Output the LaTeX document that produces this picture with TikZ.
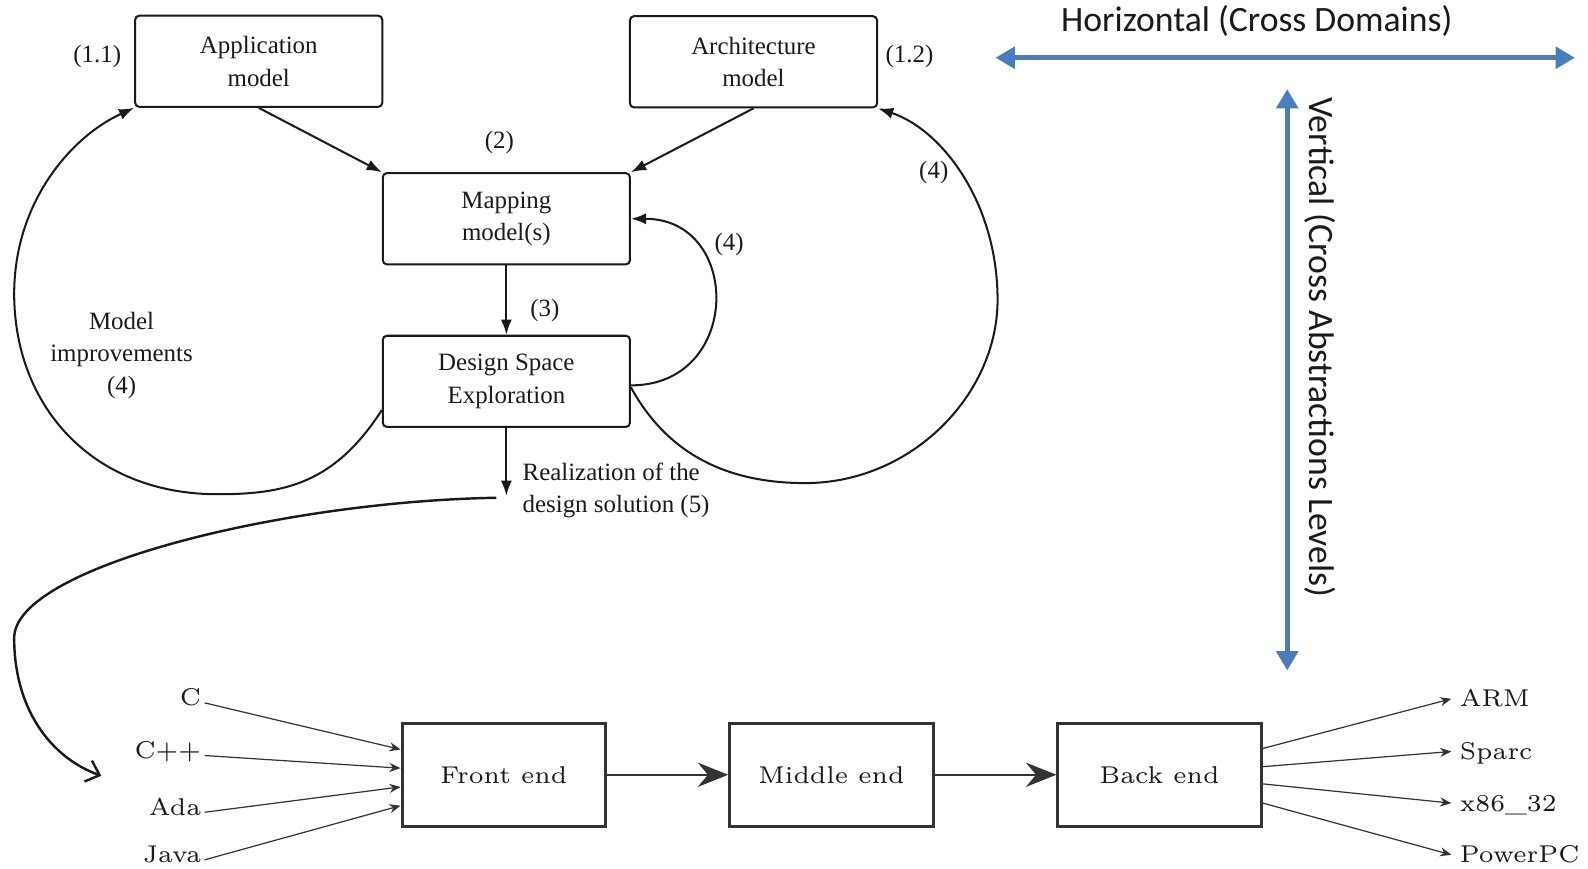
\documentclass[tikz,border=0pt]{standalone}
\usepackage{fontspec}
\newfontfamily\timesfont{Liberation Serif}
\newfontfamily\calibrifont{Carlito}
\usepackage{tikz}
\usetikzlibrary{arrows.meta,calc,positioning}
\usepackage{xcolor}
\definecolor{ink}{HTML}{1A1A1A}
\definecolor{gray3}{HTML}{333333}
\definecolor{blueax}{HTML}{4A7EBB}
\newcommand{\cmsmall}[1]{\scalebox{2}{\normalfont\fontsize{6}{7}\selectfont #1}}

\begin{document}
\begin{tikzpicture}[x=0.5pt, y=-0.5pt, every node/.style={font=\timesfont\fontsize{12.3}{16}\selectfont, text=ink},
      box/.style={draw=ink, line width=1pt, rounded corners=2pt, align=center, minimum width=122pt, minimum height=45pt, inner sep=0pt},
      stage/.style={draw=gray3, line width=1.5pt, minimum width=100.5pt, minimum height=51pt, inner sep=0pt, text=ink},
      lang/.style={inner sep=0pt, text=ink},
      flow/.style={draw=ink, line width=1pt, -{Latex[length=7.5pt,width=5.5pt]}},
      feed/.style={draw=gray3, line width=0.6pt, -{Stealth[length=5.5pt,width=4.5pt]}},
      pass/.style={draw=gray3, line width=1.1pt, -{Stealth[length=15pt,width=12pt,inset=5pt]}},
      dom/.style={draw=blueax, line width=2.5pt, {Triangle[length=9.5pt,width=10.5pt]}-{Triangle[length=9.5pt,width=10.5pt]}},
      lbl/.style={font=\calibrifont\fontsize{17.6}{20}\selectfont, inner sep=0pt}]
    \useasboundingbox (0,0) rectangle (1568,858);
    \node[box] (app) at (255.5,60.5) {Application\\model};
    \node[box] (arch) at (744,61) {Architecture\\model};
    \node[box] (map) at (500,216) {Mapping\\model(s)};
    \node[box] (dse) at (500,376.5) {Design Space\\Exploration};
    \node (n11) at (96,56) {(1.1)};
    \node (n12) at (898,56) {(1.2)};
    \node (n2) at (493,141) {(2)};
    \node (n3) at (538,307) {(3)};
    \node (n4a) at (720,241) {(4)};
    \node (n4b) at (922,170) {(4)};
    \node[align=center] (imp) at (120,351) {Model\\improvements\\(4)};
    \coordinate[below=33.5pt of dse.south] (real);
    \node[anchor=west, align=left] (sol) at (509,484) {Realization of the\\design solution (5)};
    \draw[flow] (app.south) -- (map.north west); \draw[flow] (arch.south) -- (map.north east);
    \draw[flow] (map) -- (dse); \draw[flow] (dse) -- (real);
    \draw[flow] ([yshift=-2pt]dse.east) .. controls +(110,0) and +(110,0) .. (map.east);
    \draw[flow] ([yshift=-3pt]dse.east) .. controls (660,450) and (720,477) .. (795,477) .. controls (900,477) and (985,390) .. (985,296) .. controls (985,200) and (930,128) .. (arch.south east);
    \draw[flow] (dse.193) .. controls (330,478) and (280,488) .. (215,488) .. controls (90,488) and (14,400) .. (14,290) .. controls (14,200) and (70,135) .. (app.south west);
    % towards the compiler chain
    \coordinate (cc) at (100,766);
    \draw[ink, line width=1.2pt, -{Straight Barb[length=6pt,width=11pt]}] ([shift={(-5pt,-1pt)}]real) .. controls (280,495) and (14,560) .. (14,630) .. controls (14,700) and (50,748) .. (cc);
    \node[stage] (fe) at (497.5,765) {\cmsmall{Front end}};
    \node[stage] (me) at (821,765) {\cmsmall{Middle end}};
    \node[stage] (be) at (1145,765) {\cmsmall{Back end}};
    \draw[pass] (fe) -- (me); \draw[pass] (me) -- (be);
    \node[lang, anchor=base east] (c) at (199,697) {\cmsmall{C}};
    \node[lang, anchor=base east] (cpp) at (199,749) {\cmsmall{C++}};
    \node[lang, anchor=base east] (ada) at (199,805) {\cmsmall{Ada}};
    \node[lang, anchor=base east] (java) at (199,852) {\cmsmall{Java}};
    \foreach \a/\d in {c/12.5pt, cpp/3.25pt, ada/-6pt, java/-15.25pt}
      \draw[feed] ([shift={(1.5pt,1.5pt)}]\a.base east) -- ([yshift=\d]fe.west);
    \node[lang, anchor=base west] (arm) at (1441,698) {\cmsmall{ARM}};
    \node[lang, anchor=base west] (sparc) at (1441,750) {\cmsmall{Sparc}};
    \node[lang, anchor=base west] (x86) at (1441,801) {\cmsmall{x86\_32}};
    \node[lang, anchor=base west] (ppc) at (1441,852) {\cmsmall{PowerPC}};
    \foreach \a/\d in {arm/13pt, sparc/4pt, x86/-4.5pt, ppc/-14pt}
      \draw[feed] ([yshift=\d]be.east) -- ([shift={(-4pt,4pt)}]\a.base west);
    \coordinate (hl) at (983,57); \coordinate (hr) at (1555,57);
    \draw[dom] (hl) -- (hr);
    \node[lbl] (hor) at (1241,21) {Horizontal (Cross Domains)};
    \coordinate (vt) at (1271,88); \coordinate (vb) at (1271,662);
    \draw[dom] (vt) -- (vb);
    \node[lbl, rotate=-90] (ver) at (1303,343) {Vertical (Cross Abstractions Levels)};
  \end{tikzpicture}
\end{document}
